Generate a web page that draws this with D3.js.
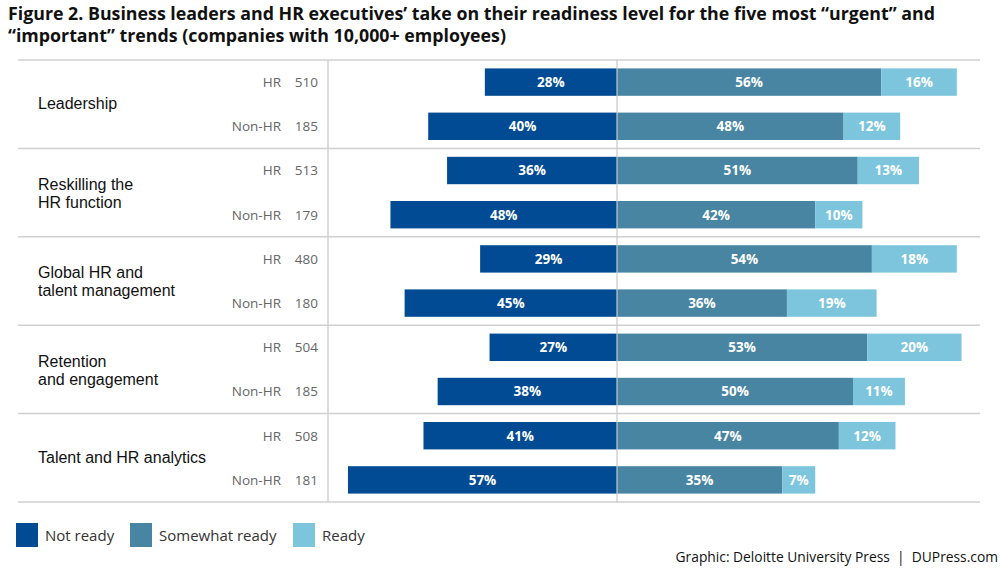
<!DOCTYPE html>
<html><head><meta charset="utf-8">
<script src="https://cdn.jsdelivr.net/npm/d3@7"></script>
<style>
html,body{margin:0;padding:0;background:#fff;}
svg{display:block;font-family:"Open Sans","Noto Sans",sans-serif;}
</style></head>
<body>
<svg id="chart" width="1000" height="572"></svg>
<script>
const titleLines = ["Figure 2. Business leaders and HR executives’ take on their readiness level for the five most “urgent” and",
  "“important” trends (companies with 10,000+ employees)"];
const groups = [["Leadership"], ["Reskilling the", "HR function"], ["Global HR and", "talent management"], ["Retention", "and engagement"], ["Talent and HR analytics"]];
const respondents = ["HR", "Non-HR"];
const counts = [[510,185],[513,179],[480,180],[504,185],[508,181]];
const notReady = [[28,40],[36,48],[29,45],[27,38],[41,57]];
const somewhatReady = [[56,48],[51,42],[54,36],[53,50],[47,35]];
const ready = [[16,12],[13,10],[18,19],[20,11],[12,7]];
const seriesNames = ["Not ready", "Somewhat ready", "Ready"];
const colors = ["#004b93", "#4785a3", "#7cc5dc"];
const footer = "Graphic: Deloitte University Press  |  DUPress.com";

const svg = d3.select("#chart");
const yTop = 60, yBottom = 502;
const x = d3.scaleLinear().domain([-60, 75]).range([617 - 60*4.72, 617 + 75*4.72]);
const yGroup = d3.scaleBand().domain(d3.range(groups.length)).range([yTop, yBottom]).padding(0);
const yRow = d3.scaleBand().domain(respondents).range([0, yGroup.bandwidth()]).paddingInner(0.38).paddingOuter(0.19);

// title
svg.append("g").selectAll("text").data(titleLines).join("text")
  .attr("x", 8).attr("y", (d,i) => 19.5 + i*22)
  .attr("font-size", 17.8).attr("font-weight", 700).attr("fill", "#111")
  .text(d => d);

// separators
svg.append("g").selectAll("line").data(d3.range(groups.length + 1)).join("line")
  .attr("x1", 18).attr("x2", 980)
  .attr("y1", i => i < groups.length ? yGroup(i) : yBottom)
  .attr("y2", i => i < groups.length ? yGroup(i) : yBottom)
  .attr("stroke", "#d0d0d0").attr("stroke-width", 1.5);

svg.append("line").attr("x1", 328).attr("x2", 328).attr("y1", yTop).attr("y2", yBottom)
  .attr("stroke", "#d0d0d0").attr("stroke-width", 1.5);

const g = svg.append("g").selectAll("g").data(groups).join("g")
  .attr("transform", (d,i) => `translate(0,${yGroup(i)})`);

g.each(function(lines, gi){
  const n = lines.length;
  const cy = yGroup.bandwidth()/2;
  const sel = d3.select(this);
  const lab = sel.append("text").attr("font-size", 16).attr("fill", "#111")
    .attr("font-family", "'Liberation Sans', Arial, sans-serif");
  lab.selectAll("tspan").data(lines).join("tspan")
    .attr("x", 38).attr("y", (d,i) => cy + (n > 1 ? 6.5 : 5) + (i - (n-1)/2) * 18)
    .text(d => d);
  respondents.forEach((r, ri) => {
    const yc = yRow(r) + yRow.bandwidth()/2 + 5;
    sel.append("text").attr("x", 281).attr("y", yc).attr("text-anchor", "end")
      .attr("font-size", 13.5).attr("fill", "#666").text(r);
    sel.append("text").attr("x", 318).attr("y", yc).attr("text-anchor", "end")
      .attr("font-size", 13.5).attr("fill", "#666").text(counts[gi][ri]);
    const segs = [
      {v: notReady[gi][ri], x0: -notReady[gi][ri], x1: 0, c: 0},
      {v: somewhatReady[gi][ri], x0: 0, x1: somewhatReady[gi][ri], c: 1},
      {v: ready[gi][ri], x0: somewhatReady[gi][ri], x1: somewhatReady[gi][ri] + ready[gi][ri], c: 2}
    ];
    segs.forEach(s => {
      sel.append("rect").attr("x", x(s.x0)).attr("width", x(s.x1) - x(s.x0))
        .attr("y", yRow(r)).attr("height", yRow.bandwidth()).attr("fill", colors[s.c]);
      sel.append("text").attr("x", (x(s.x0) + x(s.x1))/2).attr("y", yc)
        .attr("text-anchor", "middle").attr("font-size", 13.5).attr("font-weight", 700)
        .attr("fill", "#fff").text(s.v + "%");
    });
  });
});

// center line
svg.append("line").attr("x1", x(0)).attr("x2", x(0)).attr("y1", yTop).attr("y2", yBottom)
  .attr("stroke", "#c8c8c8").attr("stroke-width", 1.2);

// legend
const legX = [16, 130, 293];
const leg = svg.append("g").selectAll("g").data(seriesNames).join("g")
  .attr("transform", (d,i) => `translate(${legX[i]},523)`);
leg.append("rect").attr("width", 22).attr("height", 24).attr("fill", (d,i) => colors[i]);
leg.append("text").attr("x", 29).attr("y", 18).attr("font-size", 15).attr("fill", "#333").text(d => d);

svg.append("text").attr("x", 998).attr("y", 562).attr("text-anchor", "end")
  .attr("font-size", 13.8).attr("fill", "#111").attr("xml:space", "preserve").text(footer);
</script>
</body></html>
